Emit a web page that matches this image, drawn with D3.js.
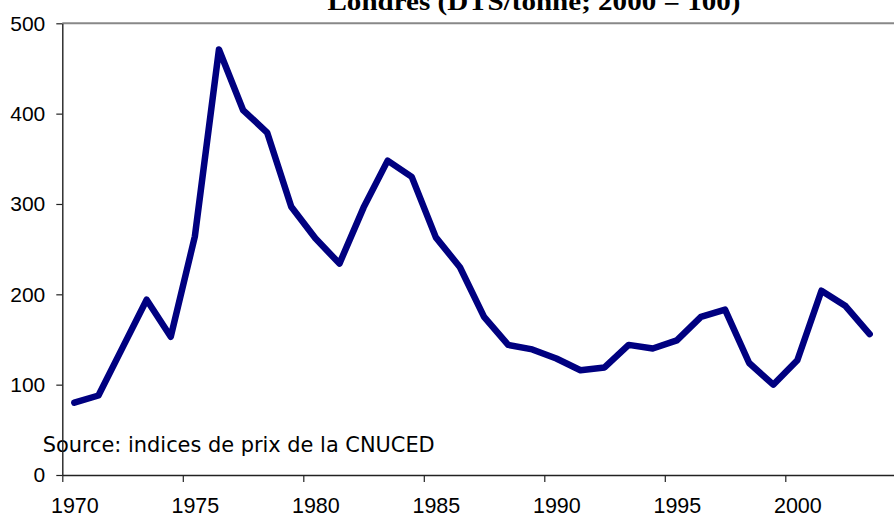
<!DOCTYPE html>
<html>
<head>
<meta charset="utf-8">
<script src="https://cdn.jsdelivr.net/npm/d3@7"></script>
<style>
  html, body { margin: 0; padding: 0; background: #fff; }
  svg { display: block; }
</style>
</head>
<body>
<div id="chart"></div>
<script>
// price index, London (SDR/tonne; 2000 = 100)
const years = [1970, 1971, 1972, 1973, 1974, 1975, 1976, 1977, 1978, 1979,
               1980, 1981, 1982, 1983, 1984, 1985, 1986, 1987, 1988, 1989,
               1990, 1991, 1992, 1993, 1994, 1995, 1996, 1997, 1998, 1999,
               2000, 2001, 2002, 2003];
const values = [80, 88, 141, 194, 153, 264, 471, 404, 379, 297,
                262, 234, 296, 348, 330, 263, 230, 175, 144, 139,
                129, 116, 119, 144, 140, 149, 175, 183, 124, 100,
                127, 204, 187, 156];
const yTicks = [0, 100, 200, 300, 400, 500];
const xTicks = [1970, 1975, 1980, 1985, 1990, 1995, 2000];

const titleText = "Londres (DTS/tonne; 2000 = 100)";
const sourceText = "Source: indices de prix de la CNUCED";

const width = 894, height = 515;
const margin = {top: 23.3, left: 62.3, bottom: 40};
const yearStep = 24.1;

const svg = d3.select("#chart").append("svg")
    .attr("width", width)
    .attr("height", height);

const x = d3.scaleLinear()
    .domain([1970, 2005])
    .range([margin.left, margin.left + yearStep * 35]);

const y = d3.scaleLinear()
    .domain([0, 500])
    .range([height - margin.bottom, margin.top]);

// title (cut at the top edge in the reference)
svg.append("text")
    .attr("x", 534)
    .attr("y", 10)
    .attr("text-anchor", "middle")
    .attr("font-family", "Liberation Serif, Times New Roman, serif")
    .attr("font-weight", "bold")
    .attr("font-size", 26)
    .attr("textLength", 413)
    .attr("lengthAdjust", "spacingAndGlyphs")
    .text(titleText);

// source note, sits under the y axis line
svg.append("text")
    .attr("x", 42.7)
    .attr("y", 451.5)
    .attr("font-family", "DejaVu Sans Condensed, DejaVu Sans, sans-serif")
    .attr("font-size", 21)
    .attr("textLength", 392)
    .attr("lengthAdjust", "spacingAndGlyphs")
    .attr("fill", "#000")
    .text(sourceText);

// top border of plot area
svg.append("line")
    .attr("x1", margin.left)
    .attr("x2", width)
    .attr("y1", y(500))
    .attr("y2", y(500))
    .attr("stroke", "#888")
    .attr("stroke-width", 2);

// y axis
const yAxis = svg.append("g")
    .attr("transform", `translate(${margin.left},0)`)
    .call(d3.axisLeft(y).tickValues(yTicks).tickSize(6).tickPadding(11).tickSizeOuter(0));
yAxis.select(".domain").attr("stroke", "#222").attr("stroke-width", 1.4);
yAxis.selectAll(".tick line").attr("stroke", "#222").attr("stroke-width", 1.2);
yAxis.selectAll(".tick text")
    .attr("font-family", "Liberation Sans, Arial, sans-serif")
    .attr("font-size", 21)
    .attr("fill", "#000");

// x axis: ticks between years, labels at year centre
const xAxis = svg.append("g")
    .attr("transform", `translate(0,${y(0)})`)
    .call(d3.axisBottom(x).tickValues(xTicks).tickFormat(d3.format("d")).tickSize(7).tickPadding(0).tickSizeOuter(0));
xAxis.select(".domain").attr("stroke", "#222").attr("stroke-width", 1.6);
xAxis.selectAll(".tick line").attr("stroke", "#222").attr("stroke-width", 1.2);
xAxis.selectAll(".tick text")
    .attr("x", x(1970.5) - x(1970))
    .attr("y", 23)
    .attr("font-family", "Liberation Sans, Arial, sans-serif")
    .attr("font-size", 21.5)
    .attr("fill", "#000");

// series
const line = d3.line()
    .x((d, i) => x(years[i] + 0.5))
    .y(d => y(d));

svg.append("path")
    .datum(values)
    .attr("d", line)
    .attr("fill", "none")
    .attr("stroke", "#000080")
    .attr("stroke-width", 6.5)
    .attr("stroke-linejoin", "round")
    .attr("stroke-linecap", "round");
</script>
</body>
</html>
